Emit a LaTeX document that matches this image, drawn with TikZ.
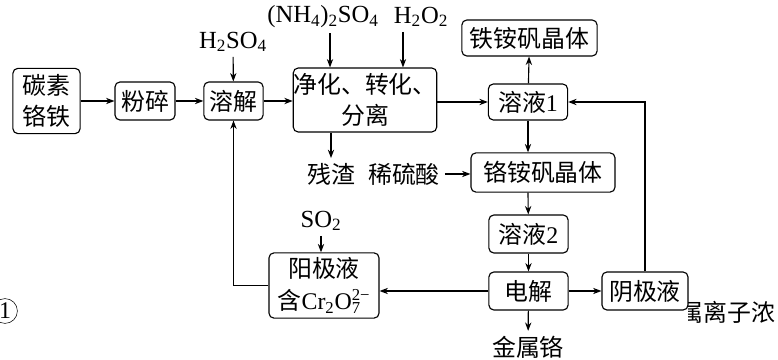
\documentclass[tikz,border=0pt]{standalone}
\usepackage{fontspec}
\setmainfont{Noto Sans CJK SC}
\newfontfamily\lat{Liberation Serif}
\usepackage{tikz}
\usetikzlibrary{arrows.meta, positioning}

\begin{document}
\begin{tikzpicture}[
    x=0.025cm, y=-0.025cm,
    >={Stealth[length=6pt, width=4.5pt]},
    every node/.style={font=\fontsize{17}{22.5}\selectfont},
    box/.style={rectangle, draw, rounded corners=3.5pt, line width=0.8pt, inner sep=0pt, align=center},
    chem/.style={font=\fontsize{17.5}{21}\selectfont\lat},
    flow/.style={->, line width=0.8pt}
]
\useasboundingbox (0,0) rectangle (778,360);
% boxes
\node[box, minimum width=1.68cm, minimum height=1.63cm] (crfe) at (46.5,101) {碳素\\铬铁};
\node[box, minimum width=1.5cm, minimum height=0.95cm] (fs) at (145,101) {粉碎};
\node[box, minimum width=1.48cm, minimum height=0.95cm] (rj) at (233.5,101) {溶解};
\node[box, minimum width=3.3cm, minimum height=1.6cm] (jh) at (365,100) {净化、转化、\\分离};
\node[box, minimum width=1.98cm, minimum height=0.9cm] (ry1) at (528,102) {溶液{\lat 1}};
\node[box, minimum width=3.38cm, minimum height=0.9cm] (ta) at (529.5,38) {铁铵矾晶体};
\node[box, minimum width=3.6cm, minimum height=0.98cm] (ga) at (543,172.5) {铬铵矾晶体};
\node[box, minimum width=1.98cm, minimum height=0.95cm] (ry2) at (528.5,234) {溶液{\lat 2}};
\node[box, minimum width=1.98cm, minimum height=0.95cm] (dj) at (528.5,291) {电解};
\node[box, minimum width=2.75cm, minimum height=1.63cm] (yj) at (324,285.5) {阳极液\\含{\lat Cr\textsubscript{2}O\rlap{\textsubscript{7}}\textsuperscript{2−}}};
\node[box, minimum width=2.15cm, minimum height=0.95cm] (ij) at (645,291) {阴极液};
% labels
\node[chem] (hso) at (233,42) {H\textsubscript{2}SO\textsubscript{4}};
\node[chem] (nhs) at (323,17) {(NH\textsubscript{4})\textsubscript{2}SO\textsubscript{4}};
\node[chem] (hoo) at (421,17) {H\textsubscript{2}O\textsubscript{2}};
\node (cz) at (331,174) {残渣};
\node (xls) at (404,174) {稀硫酸};
\node[chem] (so) at (321,221) {SO\textsubscript{2}};
\node (jsg) at (528,347) {金属铬};
% arrows
\draw[flow] (crfe.east |- fs) -- (fs);
\draw[flow] (fs) -- (rj);
\draw[flow] (rj) -- (jh.west |- rj);
\draw[flow] (jh.east |- ry1) -- (ry1);
\draw[flow] (ry1) -- (ta);
\draw[flow] (ry1.south) -- (ry1.south |- ga.north);
\draw[flow] (ry1.south |- ga.south) -- (ry2);
\draw[flow] (ry2) -- (dj);
\draw[flow] (dj) -- (jsg);
\draw[flow] (dj) -- (yj.east |- dj);
\draw[flow] (dj) -- (ij);
\draw[flow] (ij.north) |- (ry1.east);
\draw[flow] (yj.west) -| (rj.south);
\draw[flow] (hso) -- (rj);
\draw[flow] ([xshift=0.175cm]nhs.south) -- ([xshift=0.175cm]nhs.south |- jh.north);
\draw[flow] ([xshift=-0.45cm]hoo.south) -- ([xshift=-0.45cm]hoo.south |- jh.north);
\draw[flow] (cz.north |- jh.south) -- (cz);
\draw[flow] (xls) -- (ga.west |- xls);
\draw[flow] (so) -- (yj.north -| so);
% cut-off text at the edges
\node[circle, draw, line width=0.4pt, minimum size=0.62cm, inner sep=0pt, font=\fontsize{17}{20}\selectfont\lat] (no1) at (5,311) {1};
\begin{scope}
\clip (688,290) rectangle (778,335);
\node[anchor=west, inner sep=0pt, font=\fontsize{17}{20}\selectfont] (frag) at (679,312) {属离子浓};
\end{scope}
\end{tikzpicture}
\end{document}
